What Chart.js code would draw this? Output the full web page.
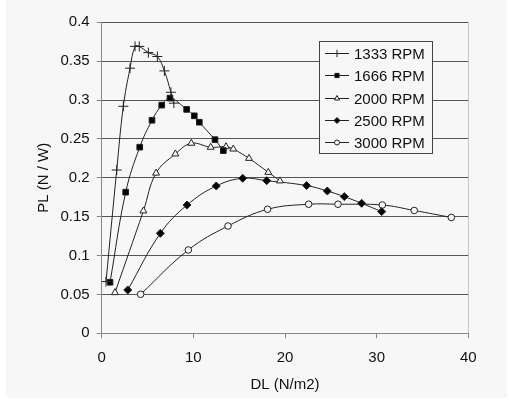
<!DOCTYPE html>
<html lang="en">
<head>
<meta charset="UTF-8">
<title>PL vs DL</title>
<script src="https://cdn.jsdelivr.net/npm/chart.js@4"></script>
<style>
  body { margin: 0; background: #fff; width: 509px; height: 402px; position: relative; overflow: hidden; }
  .panel { position: absolute; left: 6px; top: 0; width: 501px; height: 398px; background: #f7f7f7; }
  .wrap { position: absolute; left: 0; top: 0; width: 509px; height: 402px; }
</style>
</head>
<body>
<div class="panel"></div>
<div class="wrap"><canvas id="chart" width="509" height="402"></canvas></div>
<script>
// values
const seriesLabels = ['1333 RPM', '1666 RPM', '2000 RPM', '2500 RPM', '3000 RPM'];

const rpm1333X = [0.47, 1.64, 2.36, 3.09, 3.64, 4.10, 5.09, 6.07, 6.84, 7.55, 7.87];
const rpm1333Y = [0.0665, 0.210, 0.292, 0.341, 0.369, 0.369, 0.361, 0.356, 0.3375, 0.310, 0.296];

const rpm1666X = [0.91, 2.62, 4.15, 5.49, 6.55, 7.45, 9.27, 10.10, 10.65, 12.36, 13.27];
const rpm1666Y = [0.0656, 0.1815, 0.2394, 0.274, 0.2935, 0.3025, 0.288, 0.2797, 0.2715, 0.249, 0.235];

const rpm2000X = [1.45, 4.55, 5.93, 8.04, 9.78, 11.89, 13.56, 14.36, 16.07, 18.18, 19.45];
const rpm2000Y = [0.0523, 0.1574, 0.206, 0.2307, 0.2444, 0.2393, 0.240, 0.237, 0.225, 0.207, 0.196];

const rpm2500X = [2.84, 6.40, 9.31, 12.50, 15.38, 18.00, 22.36, 24.62, 26.47, 28.36, 30.55];
const rpm2500Y = [0.0557, 0.1286, 0.165, 0.1895, 0.1994, 0.1963, 0.190, 0.183, 0.1758, 0.1672, 0.1565];

const rpm3000X = [4.25, 9.45, 13.78, 18.10, 22.58, 25.78, 30.62, 34.10, 38.15];
const rpm3000Y = [0.0502, 0.1072, 0.138, 0.1595, 0.166, 0.166, 0.165, 0.158, 0.149];

const BG = '#f7f7f7';
const FONT = '"Liberation Sans", Arial, sans-serif';

function pts(xs, ys) { return xs.map((x, i) => ({ x: x, y: ys[i] })); }

function series(label, xs, ys, style, radius, fill) {
  return {
    label: label,
    data: pts(xs, ys),
    showLine: true,
    tension: 0.4,
    borderColor: '#222',
    borderWidth: 1,
    pointStyle: style,
    pointRadius: radius,
    pointHoverRadius: radius,
    pointBorderColor: '#222',
    pointBorderWidth: 1,
    pointBackgroundColor: fill,
    legendRadius: radius * 0.75
  };
}

const legendPlugin = {
  id: 'boxLegend',
  afterDraw(chart) {
    const ctx = chart.ctx;
    ctx.save();
    ctx.fillStyle = BG;
    ctx.fillRect(319.5, 41.5, 113, 112);
    ctx.strokeStyle = '#444';
    ctx.lineWidth = 1;
    ctx.strokeRect(319.5, 41.5, 113, 112);
    chart.data.datasets.forEach((ds, i) => {
      const cy = Math.round(53 + i * 22.3) + 0.5;
      ctx.strokeStyle = ds.borderColor;
      ctx.lineWidth = 1;
      ctx.beginPath();
      ctx.moveTo(325, cy);
      ctx.lineTo(349, cy);
      ctx.stroke();
      ctx.fillStyle = ds.pointBackgroundColor;
      ctx.strokeStyle = ds.pointBorderColor;
      Chart.helpers.drawPoint(ctx, { pointStyle: ds.pointStyle, radius: ds.legendRadius, borderWidth: 1, rotation: 0 }, 337, cy);
      ctx.fillStyle = '#111';
      ctx.font = '15px ' + FONT;
      ctx.textBaseline = 'middle';
      ctx.textAlign = 'left';
      ctx.fillText(ds.label, 354, cy + 1);
    });
    ctx.restore();
  }
};

new Chart(document.getElementById('chart'), {
  type: 'scatter',
  data: {
    datasets: [
      series(seriesLabels[0], rpm1333X, rpm1333Y, 'cross', 5, '#222'),
      series(seriesLabels[1], rpm1666X, rpm1666Y, 'rect', 4, '#000'),
      series(seriesLabels[2], rpm2000X, rpm2000Y, 'triangle', 4, BG),
      series(seriesLabels[3], rpm2500X, rpm2500Y, 'rectRot', 4, '#000'),
      series(seriesLabels[4], rpm3000X, rpm3000Y, 'circle', 3.3, BG)
    ]
  },
  options: {
    responsive: false,
    devicePixelRatio: 1,
    animation: false,
    layout: { padding: { left: 0, right: 40.7, top: 22.3, bottom: 0 } },
    plugins: { legend: { display: false }, tooltip: { enabled: false } },
    scales: {
      x: {
        type: 'linear', min: 0, max: 40,
        ticks: { stepSize: 10, color: '#111', font: { size: 15, family: FONT }, padding: 11, maxRotation: 0 },
        grid: {
          color: c => (c.tick && c.tick.value === 40) ? '#c8c8c8' : 'rgba(0,0,0,0)',
          tickColor: '#888', tickLength: 5, lineWidth: 1
        },
        border: { color: '#888', width: 1 },
        title: { display: true, text: 'DL (N/m2)', color: '#111', font: { size: 15, family: FONT }, padding: { top: 0, bottom: 8 } },
        afterFit: s => { s.height = 68.7; }
      },
      y: {
        type: 'linear', min: 0, max: 0.4,
        ticks: {
          stepSize: 0.05, color: '#111', font: { size: 15, family: FONT }, padding: 7,
          callback: v => String(Number(v.toFixed(2)))
        },
        grid: {
          color: c => (c.tick && c.tick.value === 0) ? '#888' : '#555',
          tickColor: '#888', tickLength: 5, lineWidth: 1
        },
        border: { color: '#888', width: 1 },
        title: { display: true, text: 'PL (N / W)', color: '#111', font: { size: 15, family: FONT }, padding: { top: 35, bottom: 0 } },
        afterFit: s => { s.width = 101.7; }
      }
    }
  },
  plugins: [legendPlugin]
});
</script>
</body>
</html>
